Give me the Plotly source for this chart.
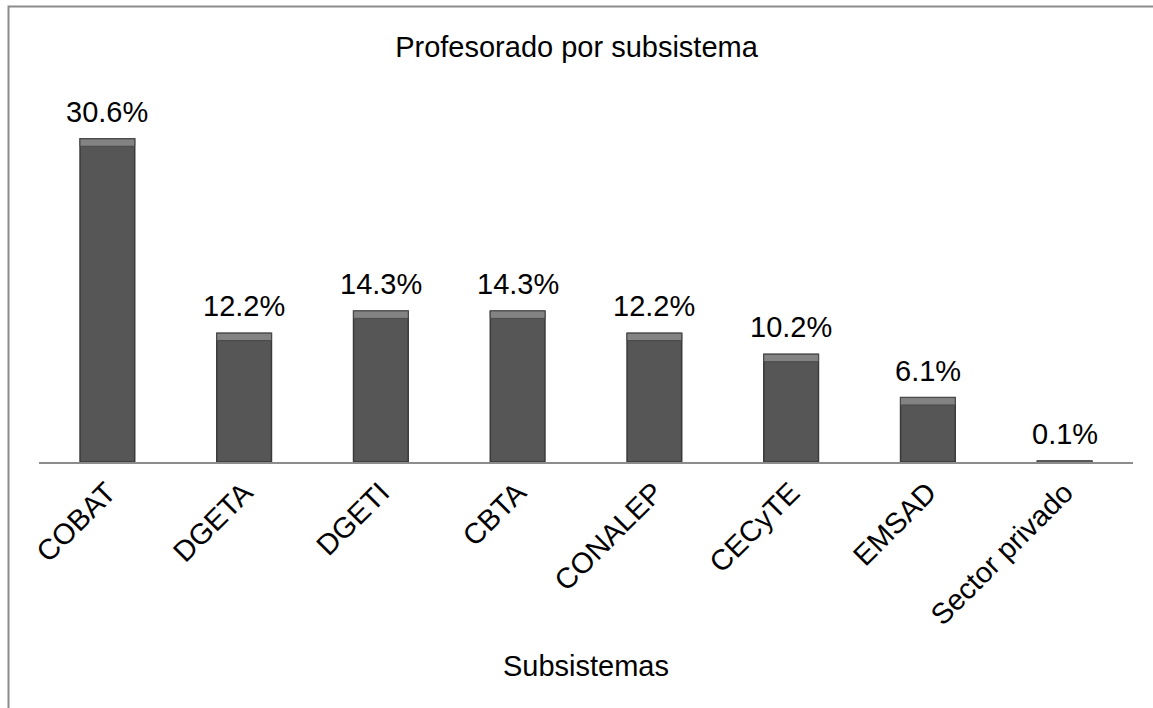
import plotly.graph_objects as go

categories = ["COBAT", "DGETA", "DGETI", "CBTA", "CONALEP", "CECyTE", "EMSAD", "Sector privado"]
values = [30.6, 12.2, 14.3, 14.3, 12.2, 10.2, 6.1, 0.1]
labels = ["30.6%", "12.2%", "14.3%", "14.3%", "12.2%", "10.2%", "6.1%", "0.1%"]

W, H = 1153, 708
ML, MR, MT, MB = 39, 20, 100, 246
PW, PH = W - ML - MR, H - MT - MB
YMAX = PH / 10.56

FONT = "Liberation Sans, Arial, sans-serif"
FS = 29

bevel = 0.7
bevel_h = [min(bevel, v) for v in values]
bevel_base = [max(v - bevel, 0) for v in values]

fig = go.Figure()
fig.add_trace(go.Bar(
    x=categories, y=values,
    marker=dict(color="#565656", line=dict(color="#3a3a3a", width=1.5)),
    hoverinfo="skip",
))
fig.add_trace(go.Bar(
    x=categories, y=bevel_h, base=bevel_base,
    marker=dict(color="#838383", line=dict(color="#4a4a4a", width=1)),
    hoverinfo="skip",
))

for c, v, t in zip(categories, values, labels):
    fig.add_annotation(x=c, y=v, text=t, showarrow=False, xref="x", yref="y",
                       yanchor="middle", yshift=27,
                       font=dict(family=FONT, size=FS, color="#000000"))

# outer border
x0 = (8.5 - ML) / PW
x1 = (W + 10 - ML) / PW
y1 = (MT + PH - 6.5) / PH
y0 = (MT + PH - H - 10) / PH
fig.add_shape(type="rect", xref="paper", yref="paper", x0=x0, x1=x1, y0=y0, y1=y1,
              line=dict(color="#8c8c8c", width=2), fillcolor="rgba(0,0,0,0)", layer="below")

fig.update_layout(
    width=W, height=H,
    margin=dict(l=ML, r=MR, t=MT, b=MB),
    paper_bgcolor="#ffffff", plot_bgcolor="#ffffff",
    barmode="overlay", bargap=0.6,
    showlegend=False,
    title=dict(text="Profesorado por subsistema", x=0.5, xanchor="center",
               y=1 - 47 / H, yanchor="middle", yref="container",
               font=dict(family=FONT, size=FS, color="#000000")),
    xaxis=dict(
        tickangle=-45, showline=True, linecolor="#8c8c8c", linewidth=2,
        ticks="", showgrid=False, zeroline=False,
        tickfont=dict(family=FONT, size=FS, color="#000000"),
        title=dict(text="Subsistemas", standoff=26,
                   font=dict(family=FONT, size=FS, color="#000000")),
    ),
    yaxis=dict(visible=False, range=[0, YMAX], showgrid=False, zeroline=False),
)

fig.write_html("out.html")
